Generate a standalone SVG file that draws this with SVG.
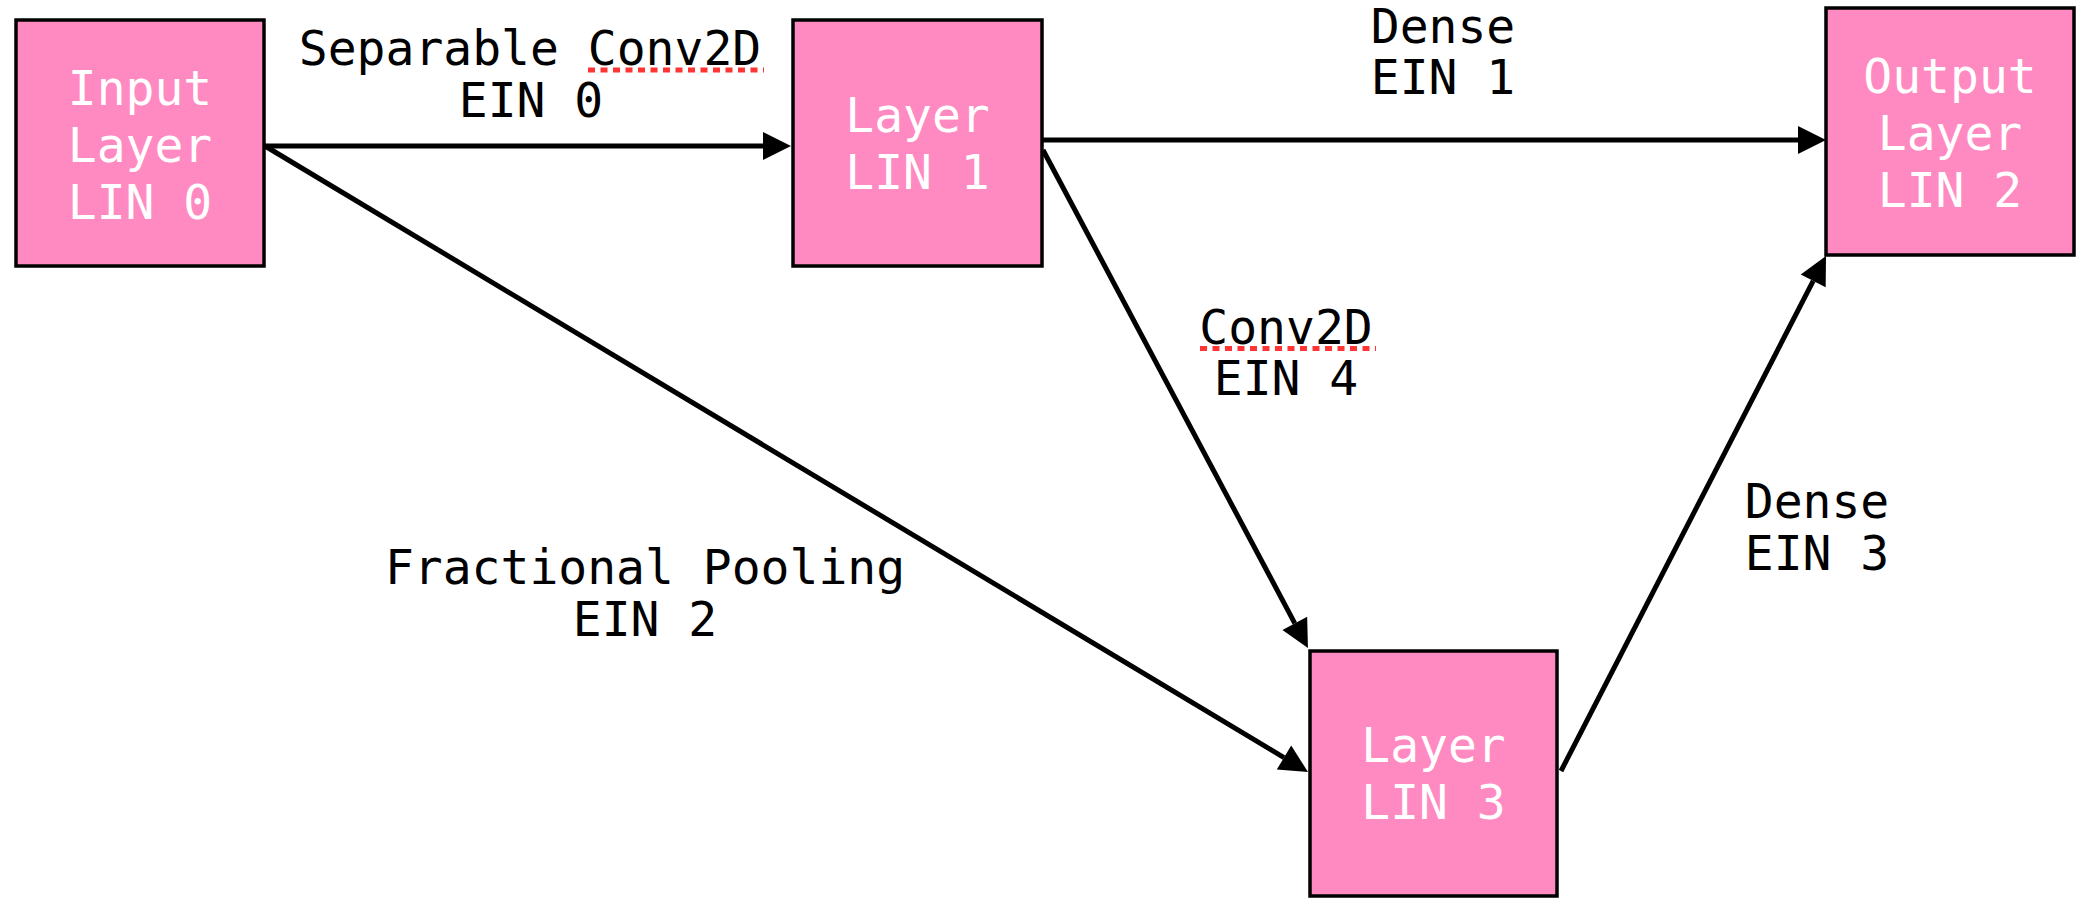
<svg xmlns="http://www.w3.org/2000/svg" width="2080" height="906" viewBox="0 0 2080 906">
<style>
.box{fill:#FF8AC1;stroke:#000;stroke-width:3.5}
.nt{font-family:"DejaVu Sans Mono",monospace;font-size:48px;fill:#fff;text-anchor:middle}
.et{font-family:"DejaVu Sans Mono",monospace;font-size:48px;fill:#000;text-anchor:middle}
.edge{fill:none;stroke:#000;stroke-width:5;marker-end:url(#arr)}
.ul{stroke:#FF3535;stroke-width:5;stroke-dasharray:7 5.5;fill:none}
</style>
<defs>
<marker id="arr" markerUnits="userSpaceOnUse" markerWidth="28" markerHeight="28" viewBox="0 0 28 28" refX="0" refY="14" orient="auto" overflow="visible">
<path d="M0,0 L28,14 L0,28 Z" fill="#000"/>
</marker>
</defs>
<rect width="2080" height="906" fill="#fff"/>
<g id="connectors">
<path class="edge" d="M265,146 L763,146"/>
<path class="edge" d="M265,146 L1284,757.6"/>
<path class="edge" d="M1042,140 L1798,140"/>
<path class="edge" d="M1043,150 L1294.8,623.3"/>
<path class="edge" d="M1561,771 L1813.2,280.9"/>
</g>
<g id="edge-labels">
<text class="et"><tspan x="530" y="65">Separable Conv2D</tspan><tspan x="531" y="117">EIN 0</tspan></text>
<line class="ul" x1="588" y1="70" x2="764" y2="70"/>
<text class="et"><tspan x="1443" y="43">Dense</tspan><tspan x="1443" y="94">EIN 1</tspan></text>
<text class="et"><tspan x="1286" y="344">Conv2D</tspan><tspan x="1286" y="395">EIN 4</tspan></text>
<line class="ul" x1="1200" y1="348.5" x2="1376" y2="348.5"/>
<text class="et"><tspan x="1817" y="518">Dense</tspan><tspan x="1817" y="570">EIN 3</tspan></text>
<text class="et"><tspan x="645" y="584">Fractional Pooling</tspan><tspan x="645" y="636">EIN 2</tspan></text>
</g>
<g id="node-lin0">
<rect class="box" x="16" y="20" width="248" height="246"/>
<text class="nt"><tspan x="140" y="105">Input</tspan><tspan x="140" y="162">Layer</tspan><tspan x="140" y="219">LIN 0</tspan></text>
</g>
<g id="node-lin1">
<rect class="box" x="793" y="20" width="249" height="246"/>
<text class="nt"><tspan x="917.5" y="132">Layer</tspan><tspan x="917.5" y="189">LIN 1</tspan></text>
</g>
<g id="node-lin2">
<rect class="box" x="1826" y="8" width="248" height="247"/>
<text class="nt"><tspan x="1950" y="93">Output</tspan><tspan x="1950" y="150">Layer</tspan><tspan x="1950" y="207">LIN 2</tspan></text>
</g>
<g id="node-lin3">
<rect class="box" x="1310" y="651" width="247" height="245"/>
<text class="nt"><tspan x="1433.5" y="762">Layer</tspan><tspan x="1433.5" y="819">LIN 3</tspan></text>
</g>
</svg>
